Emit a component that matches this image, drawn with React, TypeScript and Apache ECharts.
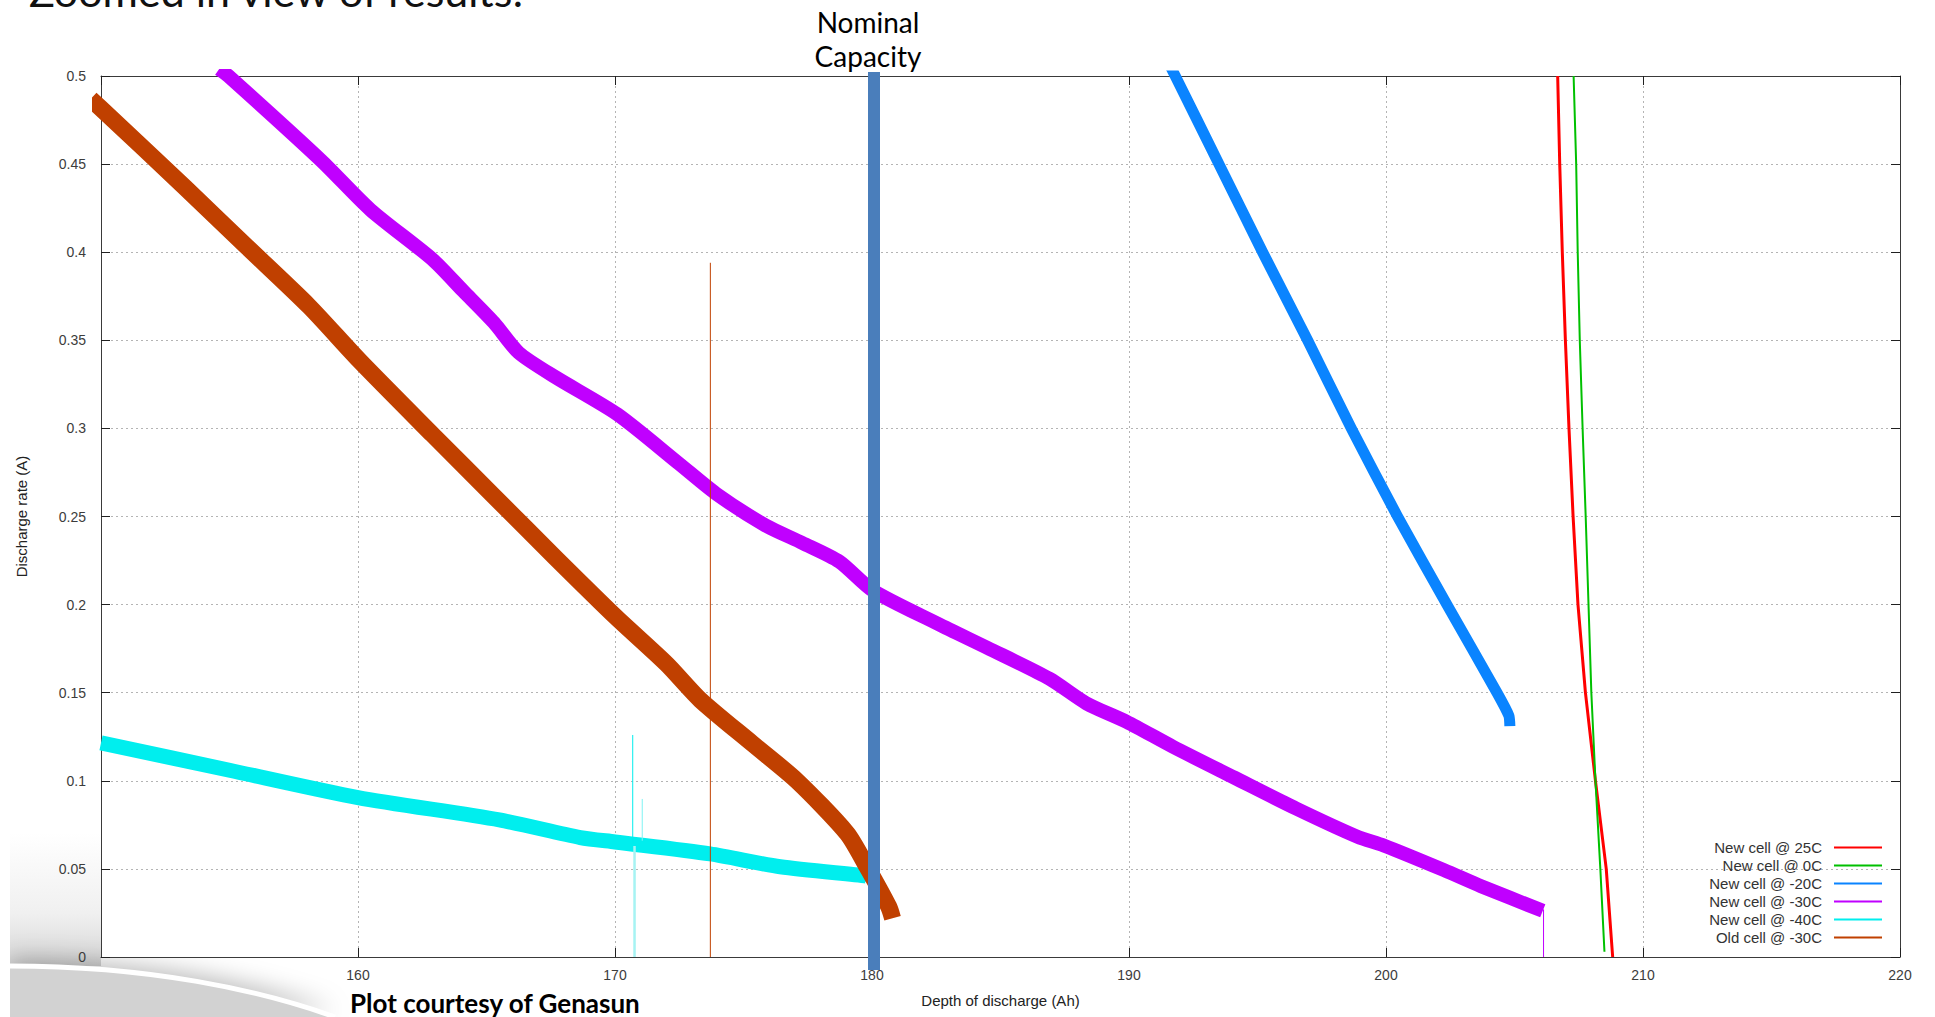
import React, { useEffect, useRef } from 'react';
import * as echarts from 'echarts';

// ---- axes ----
const xMin = 150;
const xMax = 220;
const xStep = 10;
const yMin = 0;
const yMax = 0.5;
const yStep = 0.05;
const xName = 'Depth of discharge (Ah)';
const yName = 'Discharge rate (A)';
const nominalCapacity = 180;

const seriesNames = [
  'New cell @ 25C',
  'New cell @ 0C',
  'New cell @ -20C',
  'New cell @ -30C',
  'New cell @ -40C',
  'Old cell @ -30C',
];
const seriesColors = ['#ff0000', '#00c000', '#0a84ff', '#c000ff', '#00eeee', '#c04000'];

// ---- data ----
const new25X = [206.68, 206.76, 206.86, 206.98, 207.12, 207.28, 207.47, 207.76, 208.15, 208.57, 208.82];
const new25Y = [0.5, 0.45, 0.4, 0.35, 0.3, 0.25, 0.2, 0.15, 0.1, 0.05, 0.0];

const new0X = [207.3, 207.4, 207.46, 207.54, 207.65, 207.77, 207.88, 207.99, 208.15, 208.34, 208.5];
const new0Y = [0.5, 0.45, 0.4, 0.35, 0.3, 0.25, 0.2, 0.15, 0.1, 0.05, 0.003];

const new20X = [191.45, 191.8, 193.5, 195.2, 196.95, 198.65, 200.45, 202.37, 204.32, 204.78, 204.82];
const new20Y = [0.51, 0.5, 0.45, 0.4, 0.35, 0.3, 0.25, 0.2, 0.15, 0.137, 0.131];

const new30X = [154.6, 154.96, 158.57, 160.49, 162.89, 164.09, 165.29, 166.25, 167.69, 170.09, 172.49, 173.93, 175.85, 177.29, 178.73, 180.03, 182.58, 184.5, 186.9, 188.34, 189.92, 191.7, 194.1, 196.5, 198.9, 199.91, 202.26, 203.7, 206.1];
const new30Y = [0.504, 0.5, 0.452, 0.424, 0.396, 0.378, 0.36, 0.343, 0.329, 0.308, 0.28, 0.263, 0.245, 0.235, 0.2244, 0.208, 0.189, 0.1754, 0.158, 0.144, 0.1334, 0.1194, 0.1018, 0.0843, 0.0682, 0.0633, 0.0493, 0.0402, 0.0262];

const new40X = [150, 155, 160, 165.5, 168.65, 170, 173.7, 176.43, 179.8, 179.87];
const new40Y = [0.1215, 0.106, 0.0905, 0.0778, 0.0678, 0.0653, 0.0585, 0.0512, 0.046, 0.0455];

const old30X = [149.6, 149.97, 153.28, 155.68, 158.09, 160.05, 162.89, 165.29, 167.69, 170.04, 172.01, 173.32, 175.33, 177.08, 179.03, 179.8, 180.65, 180.8];
const old30Y = [0.487, 0.482, 0.4366, 0.403, 0.3694, 0.3386, 0.2966, 0.2615, 0.2265, 0.1929, 0.1663, 0.1459, 0.1213, 0.1, 0.0702, 0.0513, 0.0286, 0.022];

// thin glitches in the traces
const new30DropX = [206.13, 206.13];
const new30DropY = [0.027, 0.0];
const new40SpikeAX = [170.69, 170.69];
const new40SpikeAY = [0.064, 0.126];
const new40DropX = [170.76, 170.76];
const new40DropY = [0.063, 0.0];
const new40SpikeBX = [171.06, 171.06];
const new40SpikeBY = [0.066, 0.0897];
const old30SpikeX = [173.71, 173.71];
const old30SpikeY = [0.0, 0.394];

const zip = (xs: number[], ys: number[]) => xs.map((x, i) => [x, ys[i]]);

// ---- slide decoration shapes ----
echarts.graphic.registerShape(
  'swooshFill',
  echarts.graphic.extendPath('M10,966 C150,966 260,990 335,1017 L10,1017 Z', {})
);
echarts.graphic.registerShape(
  'swooshArc',
  echarts.graphic.extendPath('M10,966 C150,966 260,990 335,1017', {})
);

const tickFont = { fontFamily: 'Liberation Sans', fontSize: 14, color: '#3c3c3c' };
const nameFont = { fontFamily: 'Liberation Sans', fontSize: 15, color: '#222' };
const axisLine = { show: true, onZero: false, lineStyle: { color: '#3a3a3a', width: 1 } };
const axisTick = { show: true, inside: true, length: 9, lineStyle: { color: '#202020', width: 1 } };
const gridLine = { show: true, lineStyle: { color: '#b4b4b4', width: 1, type: [2, 3] } };

function lineSeries(name: string, data: number[][], color: string, width: number, smooth = 0) {
  return {
    type: 'line',
    name,
    data,
    symbol: 'none',
    showSymbol: false,
    clip: true,
    smooth,
    lineStyle: { color, width, cap: 'butt', join: 'round' },
    itemStyle: { color },
    emphasis: { disabled: true },
  };
}

const option: any = {
  animation: false,
  backgroundColor: '#ffffff',
  textStyle: { fontFamily: 'Liberation Sans' },
  grid: { left: 101, right: 35, top: 76, bottom: 60, show: true, backgroundColor: '#ffffff', borderWidth: 0 },
  xAxis: [
    {
      type: 'value', min: xMin, max: xMax, interval: xStep, position: 'bottom',
      name: xName, nameLocation: 'middle', nameGap: 36, nameTextStyle: nameFont,
      axisLine, axisTick,
      axisLabel: { show: true, margin: 11, showMinLabel: false, ...tickFont },
      splitLine: gridLine,
    },
    {
      type: 'value', min: xMin, max: xMax, interval: xStep, position: 'top',
      axisLine, axisTick, axisLabel: { show: false }, splitLine: { show: false },
    },
  ],
  yAxis: [
    {
      type: 'value', min: yMin, max: yMax, interval: yStep, position: 'left',
      name: yName, nameLocation: 'middle', nameGap: 72, nameTextStyle: nameFont,
      axisLine, axisTick,
      axisLabel: { show: true, margin: 15, ...tickFont },
      splitLine: gridLine,
    },
    {
      type: 'value', min: yMin, max: yMax, interval: yStep, position: 'right',
      axisLine, axisTick, axisLabel: { show: false }, splitLine: { show: false },
    },
  ],
  legend: {
    data: seriesNames.map((n) => ({ name: n, icon: 'rect' })),
    orient: 'vertical',
    align: 'right',
    right: 53,
    top: 840,
    padding: 0,
    itemGap: 3,
    itemWidth: 48,
    itemHeight: 2,
    selectedMode: false,
    textStyle: { fontFamily: 'Liberation Sans', fontSize: 15, color: '#333', padding: [0, 7, 0, 0] },
  },
  series: [
    lineSeries(seriesNames[0], zip(new25X, new25Y), seriesColors[0], 3),
    lineSeries(seriesNames[1], zip(new0X, new0Y), seriesColors[1], 2),
    lineSeries(seriesNames[2], zip(new20X, new20Y), seriesColors[2], 11, 0.2),
    lineSeries(seriesNames[3], zip(new30X, new30Y), seriesColors[3], 14, 0.25),
    lineSeries(seriesNames[3], zip(new30DropX, new30DropY), seriesColors[3], 1),
    lineSeries(seriesNames[4], zip(new40X, new40Y), seriesColors[4], 15, 0.25),
    lineSeries(seriesNames[4], zip(new40SpikeAX, new40SpikeAY), seriesColors[4], 1),
    lineSeries(seriesNames[4], zip(new40SpikeBX, new40SpikeBY), '#7ff3f3', 1),
    lineSeries(seriesNames[4], zip(new40DropX, new40DropY), '#a6f3f3', 2.5),
    lineSeries(seriesNames[5], zip(old30X, old30Y), seriesColors[5], 17, 0.25),
    lineSeries(seriesNames[5], zip(old30SpikeX, old30SpikeY), seriesColors[5], 1),
    {
      type: 'custom',
      name: 'Nominal Capacity',
      data: [[nominalCapacity, yMax]],
      clip: false,
      z: 10,
      silent: true,
      renderItem: (_params: any, api: any) => {
        const x = api.value(0);
        const top = api.coord([x, yMax]);
        const bot = api.coord([x, yMin]);
        return {
          type: 'group',
          children: [
            {
              type: 'rect',
              shape: { x: top[0] - 4, y: top[1] - 4, width: 12, height: bot[1] - top[1] + 17 },
              style: { fill: '#4a7ebb' },
            },
            {
              type: 'text',
              x: top[0] - 4,
              y: top[1] - 54,
              style: { text: 'Nominal', font: '28px Lato', fill: '#000', align: 'center', verticalAlign: 'middle' },
            },
            {
              type: 'text',
              x: top[0] - 4,
              y: top[1] - 20,
              style: { text: 'Capacity', font: '28px Lato', fill: '#000', align: 'center', verticalAlign: 'middle' },
            },
          ],
        };
      },
    },
  ],
  graphic: {
    elements: [
      {
        type: 'rect',
        z: -10,
        shape: { x: 10, y: 833, width: 91, height: 133 },
        style: {
          fill: {
            type: 'linear', x: 0, y: 0, x2: 0, y2: 1,
            colorStops: [
              { offset: 0, color: '#ffffff' },
              { offset: 0.6, color: '#f0f0f0' },
              { offset: 1, color: '#d6d6d6' },
            ],
          },
        },
      },
      {
        type: 'swooshFill',
        z: -9,
        x: 0,
        y: 0,
        style: { fill: '#d2d2d2', shadowBlur: 24, shadowColor: 'rgba(0,0,0,0.28)', shadowOffsetY: -6 },
      },
      {
        type: 'rect',
        z: -8,
        shape: { x: 0, y: 900, width: 10, height: 117 },
        style: { fill: '#ffffff' },
      },
      {
        type: 'swooshArc',
        z: -7,
        x: 0,
        y: 0,
        style: { fill: 'none', stroke: '#ffffff', lineWidth: 5 },
      },
      {
        type: 'text',
        z: 100,
        x: 29,
        y: -10,
        style: { text: 'Zoomed in view of results:', font: '43px Lato', fill: '#111', align: 'left', verticalAlign: 'middle' },
      },
      {
        type: 'text',
        z: 100,
        x: 350,
        y: 1003,
        style: { text: 'Plot courtesy of Genasun', font: 'bold 26px Lato', fill: '#000', align: 'left', verticalAlign: 'middle' },
      },
    ],
  },
};

export default function App() {
  const ref = useRef<HTMLDivElement>(null);
  useEffect(() => {
    if (!ref.current) return;
    const chart = echarts.init(ref.current, null, { renderer: 'svg' });
    chart.setOption(option);
    return () => chart.dispose();
  }, []);
  return (
    <div
      ref={ref}
      style={{ position: 'fixed', left: 0, top: 0, width: 1935, height: 1017, background: '#fff' }}
    />
  );
}
